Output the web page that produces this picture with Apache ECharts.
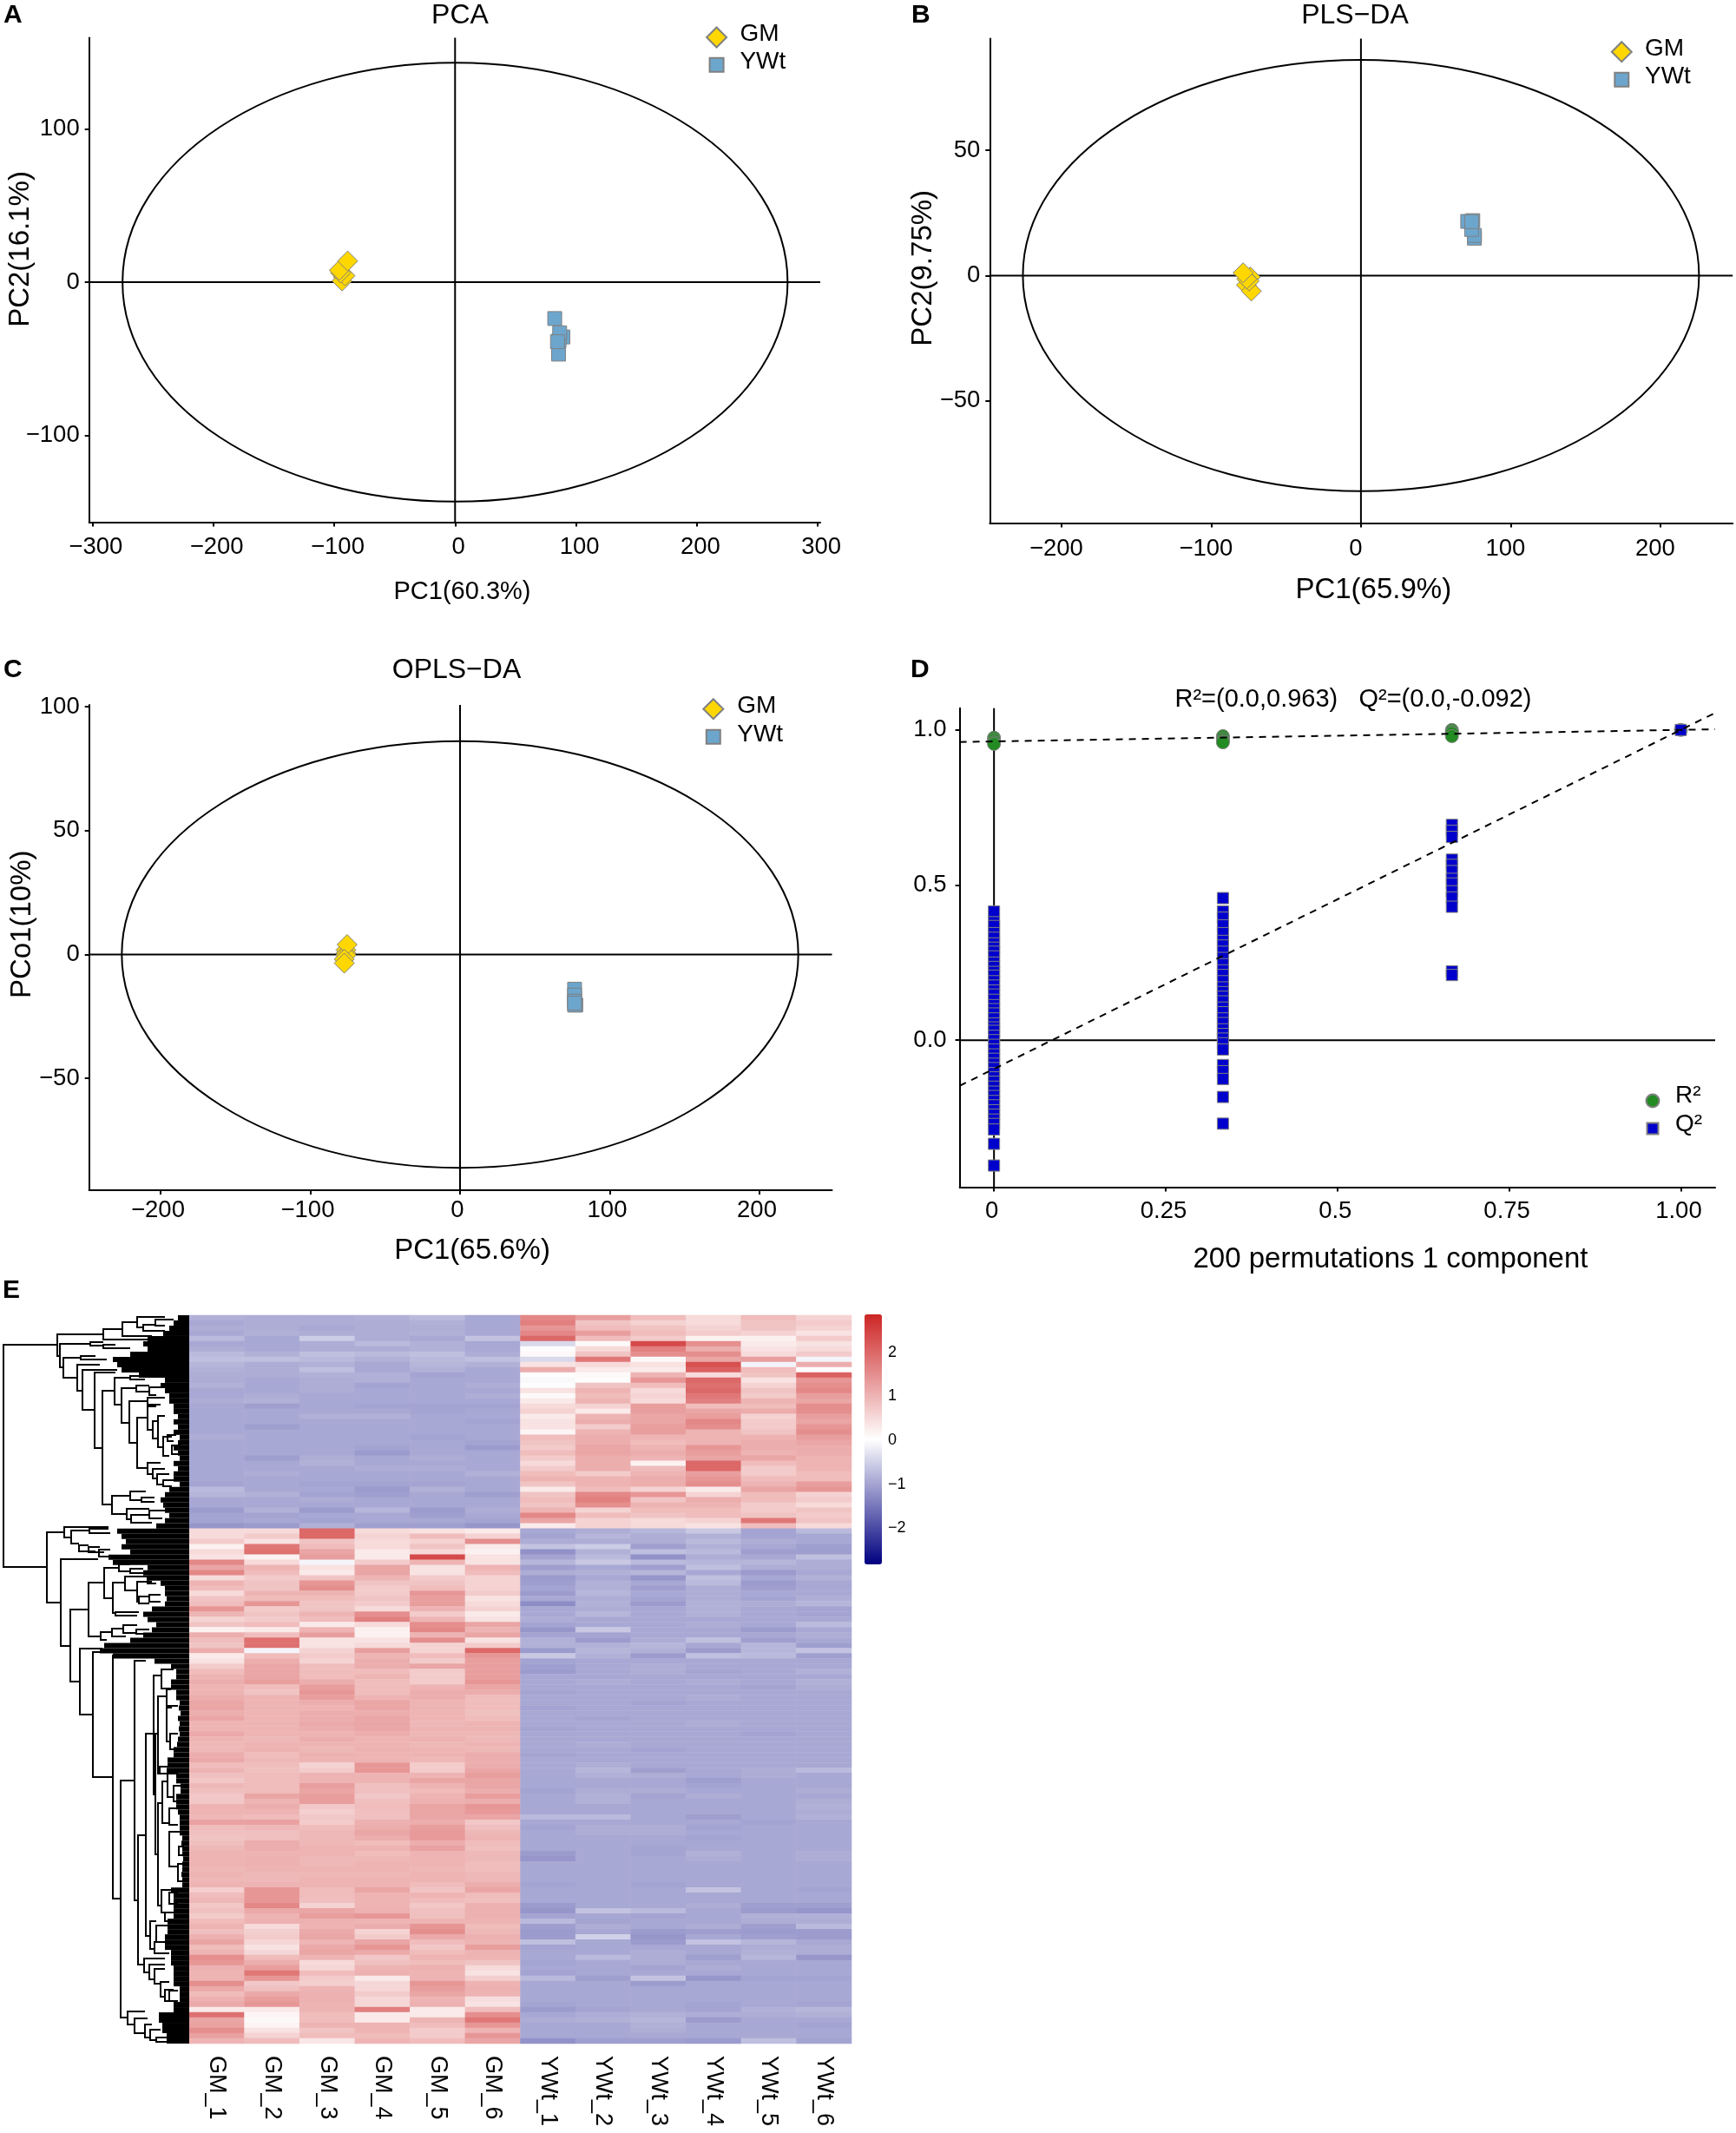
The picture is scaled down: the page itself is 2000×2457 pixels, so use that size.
<!DOCTYPE html>
<html>
<head>
<meta charset="utf-8">
<title>Metabolomics panels</title>
<script src="https://cdn.jsdelivr.net/npm/echarts@6/dist/echarts.min.js"></script>
<style>
  html, body { margin: 0; padding: 0; background: #fff; }
  #chart { width: 2000px; height: 2457px; }
</style>
</head>
<body>
<div id="chart"></div>
<script>
// 散点数据 [x, y]
const pcaGM = [[-92.4, 3.4], [-93.4, 0.8], [-91, 4.2], [-94.7, 6], [-95.7, 7.8], [-88.8, 13.8]]
const pcaYWt = [[89.2, -35.7], [86, -38], [82.4, -23.7], [86.5, -33], [85.6, -46.9], [84.7, -38.8]]
const plsGM = [[-73.9, -0.6], [-76.5, -3.8], [-73.2, -6.2], [-74.7, -2.2], [-76.2, -1.4], [-78.7, 1.1]]
const plsYWt = [[71.3, 21.6], [75.8, 14.9], [75.8, 16], [73.9, 18.4], [74.7, 21.9], [73.9, 21.5]]
const oplsGM = [[-76.2, 1.8], [-76.2, 0.5], [-76.2, -0.3], [-75.4, 4], [-77.3, -1.9], [-77.3, -3.5]]
const oplsYWt = [[77.3, -20.4], [76.5, -20.4], [76.5, -14], [76.5, -16.4], [76.5, -18.8], [76.5, -19.6]]

// 置信椭圆半径 [rx, ry]
const pcaEllipse = [275, 143]
const plsEllipse = [225.8, 86]
const oplsEllipse = [225.9, 86.1]

// 坐标轴范围与刻度
const pcaXRange = [-302.6, 302]
const pcaYRange = [-156.4, 159.2]
const plsXRange = [-247.9, 248.3]
const plsYRange = [-98.7, 94.5]
const oplsXRange = [-247.7, 248.4]
const oplsYRange = [-95.1, 100.7]
const pcaXTicks = [-300, -200, -100, 0, 100, 200, 300]
const pcaYTicks = [-100, 0, 100]
const plsXTicks = [-200, -100, 0, 100, 200]
const plsYTicks = [-50, 0, 50]
const oplsYTicks = [-50, 0, 50, 100]

// 置换检验
const permXRange = [-0.05, 1.05]
const permYRange = [-0.474, 1.07]
const permXTicks = [0, 0.25, 0.5, 0.75, 1]
const permXLabels = ['0', '0.25', '0.5', '0.75', '1.00']
const permYTicks = [0, 0.5, 1]
const permYLabels = ['0.0', '0.5', '1.0']
const similarity = [0, 0.3333, 0.6667, 1]
const r2Values = [
  [0.975, 0.968, 0.96, 0.955],
  [0.98, 0.972, 0.965, 0.96],
  [1.0, 0.995, 0.99, 0.98],
  [1.0]
]
const q2Values = [
  [0.415, 0.38, 0.368, 0.345, 0.33, 0.312, 0.298, 0.285, 0.27, 0.25, 0.236, 0.22, 0.208, 0.19, 0.176, 0.16, 0.147, 0.13, 0.113, 0.1, 0.086, 0.07, 0.054, 0.041, 0.03, 0.014, 0, -0.015, -0.03, -0.046, -0.06, -0.076, -0.09, -0.106, -0.12, -0.134, -0.15, -0.166, -0.18, -0.196, -0.21, -0.226, -0.24, -0.256, -0.27, -0.288, -0.334, -0.404],
  [0.458, 0.415, 0.395, 0.37, 0.345, 0.32, 0.305, 0.285, 0.265, 0.245, 0.225, 0.21, 0.19, 0.17, 0.155, 0.14, 0.125, 0.105, 0.09, 0.07, 0.055, 0.035, 0.02, 0.005, -0.01, -0.03, -0.08, -0.1, -0.125, -0.183, -0.269],
  [0.694, 0.675, 0.655, 0.582, 0.565, 0.545, 0.52, 0.505, 0.48, 0.46, 0.43, 0.222, 0.21],
  [1.0]
]
const r2Line = [[-0.05, 0.961], [1.05, 1.002]]
const q2Line = [[-0.05, -0.147], [1.05, 1.055]]

// 热图
const samples = ['GM_1', 'GM_2', 'GM_3', 'GM_4', 'GM_5', 'GM_6', 'YWt_1', 'YWt_2', 'YWt_3', 'YWt_4', 'YWt_5', 'YWt_6']
const colorTicks = [-2, -1, 0, 1, 2]

// 上半簇：GM 低、YWt 高
const upperGM = [
  [-.85, -.9, -.9, -.85, -.75, -.95], [-.95, -.9, -.9, -.9, -.85, -.95], [-.9, -.9, -.95, -.9, -.9, -.95],
  [-.95, -.85, -.9, -.9, -.85, -.95], [-.75, -.95, -.55, -.9, -.95, -.65], [-.95, -.95, -.9, -.75, -.85, -.95],
  [-.9, -.95, -.9, -.9, -.85, -.95], [-.75, -.85, -.7, -.75, -.7, -.9], [-.7, -.7, -.75, -.85, -.75, -.7],
  [-.8, -.9, -.85, -.95, -.8, -.85], [-.85, -.9, -.7, -.95, -.85, -.95], [-.9, -.9, -.85, -.85, -1, -.95],
  [-.9, -.95, -.9, -.85, -.95, -.95], [-.85, -.95, -.9, -1, -.95, -.9], [-.95, -.95, -.9, -.95, -.95, -.95],
  [-.95, -.9, -.95, -.95, -.95, -.9], [-.9, -.85, -.95, -.95, -.95, -.95], [-.95, -1.05, -.95, -1, -1, -1],
  [-.95, -.95, -.95, -.95, -1, -.95], [-.95, -.95, -.85, -.85, -.95, -.95], [-.95, -.95, -.95, -.95, -.95, -1],
  [-.95, -1.05, -.95, -.95, -.95, -.95], [-.95, -.95, -.95, -.95, -.95, -.95], [-.9, -.95, -.95, -.95, -1, -.95],
  [-.95, -.95, -.95, -.95, -.95, -1], [-.95, -.95, -.95, -1, -.95, -1.1], [-.95, -.95, -.95, -1.1, -.95, -.95],
  [-.95, -1.05, -.9, -.95, -.9, -.95], [-.95, -.95, -.85, -.95, -.95, -.95], [-.95, -.95, -.95, -.9, -.9, -.95],
  [-.95, -.9, -.95, -.95, -.95, -.85], [-.95, -.95, -.95, -.95, -.95, -.95], [-1, -.95, -1, -1, -1, -.95],
  [-.75, -.95, -.95, -1.1, -.85, -.95], [-.8, -.85, -1, -1.05, -.95, -1.05], [-.95, -.95, -.9, -.95, -.95, -.95],
  [-.95, -.95, -.95, -.95, -.95, -.95], [-1.1, -.85, -1.1, -.8, -1.1, -.9], [-1, -1, -.95, -.95, -1.05, -.95],
  [-1, -.95, -1, -.95, -.95, -1], [-1.15, -1.1, -.85, -1.05, -1.05, -1.15]
]
const upperYWt = [
  [1.6, 1.3, .9, .5, .9, .6], [1.7, .8, .6, .5, .8, .7], [1.4, .9, .8, .6, .8, .6],
  [1.6, 1.3, .9, .7, .6, .4], [2, .9, .7, .2, .2, .7], [-.4, .1, 2.4, 1.5, .3, .4],
  [.05, .5, 1.7, 1.1, .4, .5], [.1, .8, 1.5, 1.5, .5, .7], [-.4, 1.8, .1, 1.2, 1.3, -.1],
  [.4, .5, .4, 2.3, -.1, 1.1], [1.1, .3, .3, 2.1, .9, .05], [.05, .1, 1, .5, .8, 2.1],
  [-.05, 0, 1.4, 2, .4, 1.4], [0, .8, .9, 1.9, .6, 1.5], [.4, 1, .5, 2, .8, 1.6],
  [.1, .9, .6, 1.8, .7, 1.3], [.3, 1, .5, 1.7, 1, 1.2], [.5, .6, 1.3, .9, .9, 1.5],
  [.6, .3, 1.3, 1.2, 1.1, 1.5], [.3, 1, 1.2, 1.3, .6, 1.3], [.4, 1.1, 1.2, 1.6, .7, 1.2],
  [.4, .7, 1.3, 1.5, .7, 1.4], [.15, 1, 1.3, 1, .8, 1.5], [.9, 1.1, 1, 1, 1, 1.3],
  [.8, 1.1, .9, 1, 1.1, 1.2], [.7, 1.2, 1, 1.4, 1.1, 1.1], [.9, 1.2, 1.1, 1.3, 1, 1.1],
  [.7, 1.1, 1, 1.2, 1.2, 1], [.5, 1.1, .2, 2, .9, 1], [.7, 1.1, .9, 2, .7, 1],
  [.9, .7, 1, 1.3, .7, .9], [1, 1, 1.1, 1.4, .9, .9], [.8, 1, 1.1, 1.5, 1, 1.3],
  [.3, .9, .6, .3, 1.2, 1.4], [.8, 1.6, 1.4, .6, .9, .6], [.9, 1.7, .8, 1.1, .9, .7],
  [.8, 1.5, 1, 1, .7, .5], [1, .6, .9, .9, .7, .8], [1.6, .9, .8, .9, .8, .7],
  [1.2, .6, .5, .6, 1.8, .8], [.3, .6, .5, .4, .9, .5]
]
// 下半簇：GM 高、YWt 低
const lowerGM = [
  [.5, .5, 2, .5, .4, .3], [.5, .7, 2, .6, .9, .6], [.7, .4, .8, .5, .6, 1.5], [.2, 1.8, .9, .5, .8, .3],
  [.5, 1.9, 1.2, .3, .5, .2], [.4, .2, 1.3, .3, 2.4, .4], [1.6, .5, -.1, .7, 1, .4], [1.2, 1, .4, 1.2, .4, 1],
  [1.6, .9, .3, 1.2, .4, .9], [.5, .7, .8, 1, .7, .6], [1, .8, 1.4, .8, .8, .6], [.9, .8, 1.5, .7, .9, .6],
  [.5, 1, 1, .7, 1.4, .7], [.8, .9, .9, .8, 1.3, .4], [.9, 1.4, .8, .7, 1.3, .5], [1.4, .7, .8, .5, 1, .6],
  [1, .8, 1, 1.5, .7, .3], [.6, .7, .9, 1.7, 1, .4], [.8, .9, .3, .5, 1.5, 1.2], [.2, .3, 1, .2, 1.6, 1],
  [1.1, .9, 1.3, .2, 1, 1.2], [.9, 1.9, .4, .4, 1.5, .4], [.8, 1.9, .4, .5, .6, .7], [1.1, -.1, .6, 1.3, .6, 2],
  [.3, .9, .7, 1, .9, 1.4], [.4, 1.1, .6, 1.1, .7, 1.3], [.7, 1.2, .9, 1.1, 1.2, 1.3], [.9, 1.2, .9, .9, .7, 1.3],
  [1, 1.2, .9, 1, .7, 1.3], [1.1, 1.3, 1.1, .9, .7, 1.4], [1, .9, 1.3, .9, 1, 1.2], [1, .8, 1.4, .9, 1.1, 1.1],
  [1.1, 1, 1.3, 1, 1.1, .9], [1.2, 1, 1.1, 1.2, 1, .9], [1.2, 1, 1, 1.2, 1, .9], [1.1, 1, 1.1, 1.1, 1, .85],
  [1.2, 1, 1.1, 1.2, 1, .9], [1, 1, 1.15, 1.2, .95, 1], [1, 1, 1.1, 1.2, 1, 1], [1.15, 1, 1, 1.1, .95, .95],
  [1, .95, 1.1, 1, 1.05, .95], [.95, 1, 1, 1, .95, 1], [.95, 1.05, .95, 1.05, 1, .95], [1.1, .9, 1.05, 1, 1, 1.1],
  [1.15, .95, 1, 1, .95, 1.1], [.9, .9, .6, 1.4, .7, 1.1], [1, .85, .7, 1.4, .7, 1.2], [.85, .9, 1, 1, 1, 1.3],
  [.75, .9, 1, 1, 1.2, 1.2], [.95, .9, 1.3, .85, 1, 1.2], [.85, .9, 1.2, .85, .9, 1.1], [.75, 1.2, 1.3, .75, 1, 1.3],
  [.75, 1, 1.3, .85, 1.05, 1.1], [1, 1.1, .75, .9, 1.2, 1.4], [1, 1, .65, .85, 1.2, 1.35], [.95, .9, .75, .85, 1.2, 1.2],
  [1.25, 1.25, .7, 1.05, 1.1, .75], [.9, .95, .9, 1.1, 1.3, .85], [.85, .85, .95, 1.2, 1.35, .95], [.8, .85, .95, 1.1, 1.35, 1],
  [.85, 1.1, .95, .9, 1.1, .9], [.95, 1.1, 1, 1, 1.25, .85], [1, 1, 1, .9, 1, .95], [1, 1.05, .95, .95, 1, .95],
  [1, 1.05, .95, 1, 1, .9], [.95, 1, 1, 1, .95, .9], [1, .95, .95, .95, 1, .95], [.95, .95, 1, 1, 1, .95],
  [1, 1, 1, 1, .9, 1.1], [.65, 1.4, .9, 1.2, .8, 1.2], [.9, 1.4, .9, 1, 1, .9], [.95, 1.4, .85, 1, .9, .85],
  [.75, 1.6, .6, 1, .75, 1.05], [.85, 1.15, 1.2, 1.05, .85, 1.05], [.7, 1, 1.3, 1.4, .85, 1.05], [.9, 1.05, 1.05, 1, 1, 1],
  [1, .5, 1, 1.1, 1.4, .9], [.85, .65, 1.15, .6, 1.5, .95], [1.05, .7, 1.2, .7, 1.15, 1.05], [1.2, .55, 1, 1.2, .9, 1],
  [.9, .4, 1.15, 1.4, .75, 1.3], [1, .55, 1.2, 1.15, .9, 1], [1.5, .9, 1, .75, 1, 1], [1.4, 1.1, .5, .85, .9, .8],
  [1.05, 1.3, .55, 1, 1.05, .5], [1, 1.8, .9, 1.05, 1, .4], [1, 1.4, .7, .3, 1, .65], [1.5, .75, .65, .55, 1.4, 1],
  [1.15, .85, 1, .55, 1.3, 1.05], [.9, 1.15, 1.05, .7, 1.2, 1], [1.05, 1.3, 1.05, .55, 1, .45], [1.15, 1.4, 1, .55, 1.05, .4],
  [.3, .3, 1, 1.7, .3, .9], [1.9, .15, .9, .3, .3, 1.5], [1.2, .1, .9, .3, 1, 1.8], [1.25, .15, 1, 1, .9, 1.4],
  [1.5, .4, .8, 1, .7, 1], [1.25, .6, .9, .9, .7, 1.4], [1, .9, .35, 1, .9, 1.2]
]
const lowerYWt = [
  [-.95, -.9, -.8, -.6, -1, -.75], [-1, -.8, -.9, -.85, -1, -.95], [-.9, -.9, -.9, -.75, -.9, -.95], [-.65, -.55, -1.05, -.85, -.95, -1.05],
  [-1.2, -.85, -.7, -.75, -1.05, -1.05], [-1, -.75, -1.2, -.9, -.95, -.7], [-.8, -.6, -.75, -.8, -.8, -.9], [-1.05, -.95, -1.05, -.7, -.9, -.9],
  [-.9, -.85, -.8, -.95, -1.1, -.95], [-1.1, -.95, -1.15, -.7, -.95, -.85], [-1.05, -.85, -.95, -.75, -1.1, -.95], [-1, -.85, -1.05, -.9, -1.05, -.95],
  [-1.1, -.8, -.95, -.9, -.95, -.95], [-.95, -.9, -1, -.9, -1, -.9], [-1.25, -.85, -1.1, -.85, -.9, -.8], [-.95, -.9, -.95, -.85, -.95, -1],
  [-.95, -.8, -.95, -.85, -.95, -1], [-.9, -.95, -.95, -.95, -.95, -.95], [-1, -.95, -.95, -.9, -.95, -.75], [-1.15, -.6, -.95, -.95, -1.1, -.95],
  [-1, -1, -.95, -.95, -.95, -.9], [-.85, -1.1, -.9, -.7, -1.05, -.95], [-.85, -.85, -.8, -.95, -.8, -1.05], [-1.1, -.8, -.85, -1.1, -.8, -.65],
  [-.6, -.85, -1.1, -.7, -.75, -1.05], [-1, -.95, -.95, -.95, -.95, -.95], [-1.05, -.95, -.9, -.95, -.95, -.95], [-1.1, -.95, -.9, -1, -.95, -.85],
  [-.95, -.95, -.95, -.95, -.95, -.95], [-.95, -.9, -.95, -.9, -.95, -.85], [-.95, -.95, -.95, -.95, -1, -.9], [-1, -.95, -.95, -.95, -.95, -.95],
  [-.95, -.95, -.95, -.9, -.95, -.95], [-.95, -.95, -1, -.95, -.95, -.95], [-1, -.95, -.95, -.95, -.95, -.95], [-.95, -.95, -.95, -.95, -.95, -.95],
  [-.95, -1, -.95, -.95, -.95, -.95], [-.95, -.95, -.95, -.9, -.95, -.95], [-1, -.95, -.95, -.95, -.95, -.95], [-.95, -.95, -.95, -.95, -1, -.95],
  [-.95, -.95, -.95, -.95, -.95, -.95], [-.95, -.9, -.95, -.95, -.95, -.95], [-.95, -.95, -1, -.95, -.95, -.95], [-1, -.95, -.95, -.95, -.95, -.95],
  [-.95, -.95, -.95, -.95, -.95, -.95], [-.95, -.9, -.95, -.95, -.95, -.95], [-.95, -.8, -1.05, -.95, -.9, -.75], [-.95, -.85, -.9, -.95, -.9, -.95],
  [-.95, -.95, -.95, -1.05, -.95, -.95], [-.95, -.95, -.95, -1, -.95, -.95], [-1, -.9, -.9, -.95, -.95, -.9], [-.95, -.85, -1, -.9, -.95, -.95],
  [-.95, -.85, -.95, -.95, -.95, -.9], [-.95, -.95, -.95, -.95, -.95, -.85], [-.95, -.95, -.95, -.95, -.95, -.9], [-.75, -.75, -.95, -1.05, -.95, -.85],
  [-.95, -.95, -.95, -.95, -1, -.95], [-1, -.9, -.9, -1, -.95, -.95], [-.95, -.9, -.9, -.95, -.95, -.95], [-.95, -.95, -.95, -1, -.95, -.95],
  [-.95, -.95, -.95, -.95, -.95, -.95], [-.95, -.95, -1, -.95, -.95, -.95], [-1.1, -.95, -1, -.85, -.95, -.9], [-1.15, -.95, -.95, -.9, -.95, -.9],
  [-.95, -.95, -.95, -.95, -.95, -.95], [-.95, -.95, -.95, -.95, -.95, -.95], [-.95, -.95, -.95, -.95, -.95, -.95], [-.95, -.95, -.95, -.95, -.95, -.95],
  [-1, -.95, -1, -.95, -.95, -.95], [-.95, -.95, -.95, -.65, -.95, -1], [-.95, -.95, -.95, -.95, -.95, -.95], [-.95, -.95, -.95, -.95, -.95, -.95],
  [-1.1, -.95, -.95, -.9, -1.05, -1.05], [-1.15, -.65, -.75, -.95, -1.1, -1.15], [-1, -.95, -1, -.95, -.85, -.85], [-.75, -1, -.95, -.95, -.9, -.9],
  [-1.05, -.9, -.95, -.9, -1.05, -.75], [-1.1, -.95, -1.1, -1.05, -1.1, -1.1], [-1.1, -.5, -1.15, -.95, -1.05, -1.1], [-.7, -.95, -1.1, -.65, -.8, -.95],
  [-1, -.95, -.95, -.95, -.9, -.9], [-.95, -.95, -.9, -.95, -.85, -.9], [-.95, -.75, -.9, -1.05, -.8, -1.15], [-1, -.95, -.9, -.95, -.95, -.95],
  [-.95, -.95, -1, -.9, -.95, -.95], [-1, -.95, -.95, -.95, -.95, -.95], [-.75, -1.05, -.65, -1.15, -1, -1], [-.95, -.95, -1.1, -.95, -.95, -.95],
  [-.95, -.95, -.95, -.95, -.95, -.95], [-.95, -.95, -.95, -.95, -.95, -.95], [-.95, -.95, -.95, -.95, -.95, -.95], [-1, -.95, -.95, -1, -.95, -1],
  [-1.1, -1, -.95, -1, -.85, -.8], [-.95, -.9, -.85, -.9, -.9, -.85], [-.9, -.85, -.8, -1.1, -.95, -.95], [-.95, -.95, -.85, -.95, -.95, -1],
  [-.95, -.95, -.9, -.95, -.95, -.95], [-.95, -.95, -.95, -.95, -.95, -.95], [-1.2, -1.05, -1.05, -1.1, -.7, -1]
]

// 树状图：每个节点 [上分支位置, 下分支位置, 节点高度, 上分支末端, 下分支末端]
const dendroLinks = [
  [34, 290, 4, 66, 54], [22, 47, 66, 119, 69], [16, 28, 119, 141, 173], [8, 24, 141, 158, 175], [2, 14, 158, 190, 165],
  [5, 12, 179, 200, 190], [11, 18, 165, 179, 190], [33, 60, 69, 104, 73], [31, 35, 104, 119, 119], [34, 38, 119, 133, 150],
  [49, 72, 73, 93, 89], [47, 51, 93, 110, 123], [57, 87, 89, 115, 95], [63, 109, 95, 135, 109], [66, 153, 109, 133, 118],
  [87, 218, 118, 132, 129], [72, 103, 132, 150, 140], [70, 74, 150, 167, 167], [84, 124, 140, 157, 149], [81, 88, 157, 172, 172],
  [83, 92, 172, 185, 180], [99, 147, 149, 170, 158], [95, 103, 170, 190, 185], [118, 176, 158, 170, 170], [105, 132, 170, 180, 176],
  [122, 142, 176, 183, 182], [116, 152, 182, 190, 188], [140, 162, 188, 198, 195], [138, 145, 193, 203, 200], [150, 160, 198, 208, 205],
  [170, 183, 170, 185, 176], [177, 188, 176, 190, 181], [183, 195, 181, 195, 188], [190, 197, 188, 200, 198], [208, 229, 129, 150, 146],
  [203, 213, 150, 168, 163], [210, 215, 163, 178, 178], [223, 235, 146, 172, 151], [230, 239, 151, 172, 175], [225, 234, 172, 190, 187],
  [250, 331, 54, 74, 70], [244, 256, 74, 125, 82], [248, 263, 82, 103, 91], [246, 251, 103, 125, 127], [265, 272, 91, 102, 110],
  [267, 273, 102, 115, 120], [270, 278, 114, 127, 130], [281, 381, 70, 113, 81], [339, 422, 81, 102, 92], [308, 370, 102, 120, 116],
  [291, 326, 120, 137, 130], [287, 295, 137, 150, 150], [292, 297, 150, 165, 165], [308, 343, 130, 144, 133], [301, 317, 144, 170, 157],
  [303, 309, 170, 180, 180], [307, 330, 158, 175, 160], [324, 332, 160, 172, 172], [322, 330, 172, 185, 185], [342, 346, 133, 160, 158],
  [365, 374, 116, 129, 123], [361, 370, 129, 142, 145], [357, 366, 142, 158, 157], [362, 367, 157, 172, 172], [384, 460, 92, 118, 107],
  [388, 532, 107, 150, 130], [392, 672, 130, 150, 139], [536, 809, 139, 155, 147], [398, 674, 155, 168, 159], [599, 748, 159, 168, 166],
  [482, 715, 168, 177, 173], [415, 552, 177, 186, 179], [408, 430, 186, 200, 203], [482, 621, 179, 182, 182], [439, 528, 182, 192, 184],
  [431, 452, 192, 197, 198], [450, 491, 192, 205, 196], [482, 500, 196, 205, 209], [520, 528, 184, 197, 203], [562, 680, 182, 187, 186],
  [537, 585, 187, 193, 195], [528, 555, 193, 205, 200], [542, 560, 200, 208, 205], [568, 587, 195, 207, 205], [595, 635, 195, 210, 206],
  [612, 622, 206, 212, 210], [632, 652, 205, 213, 210], [662, 688, 186, 200, 197], [665, 678, 195, 205, 205], [688, 698, 190, 203, 200],
  [698, 730, 173, 180, 178], [703, 722, 180, 195, 190], [722, 735, 178, 190, 195], [741, 757, 166, 190, 172], [748, 765, 172, 190, 178],
  [753, 770, 178, 190, 185], [768, 785, 185, 195, 190], [777, 790, 190, 200, 195], [778, 790, 195, 205, 205], [802, 817, 147, 167, 155],
  [810, 827, 155, 170, 167], [817, 832, 167, 175, 173], [823, 835, 173, 185, 180], [832, 837, 180, 195, 195]
]
// 叶端黑色密集区的左边界（每行一个值）
const leafEdges = [
  205, 200, 195, 188, 170, 165, 170, 150, 130, 135, 140, 160, 190, 185, 190, 195, 195, 200, 200, 205,
  200, 205, 200, 207, 205, 200, 205, 207, 200, 205, 200, 200, 207, 195, 190, 185, 188, 190, 195, 190,
  180, 135, 140, 145, 140, 150, 125, 130, 170, 165, 170, 185, 190, 190, 192, 190, 175, 165, 170, 180,
  175, 165, 150, 120, 115, 130, 178, 197, 203, 203, 197, 197, 203, 203, 207, 206, 208, 205, 207, 206,
  207, 205, 204, 200, 200, 193, 193, 192, 203, 203, 208, 208, 203, 203, 203, 205, 207, 207, 207, 207,
  210, 209, 210, 210, 211, 210, 210, 209, 210, 210, 197, 200, 200, 200, 200, 200, 193, 193, 193, 190,
  190, 190, 197, 197, 197, 200, 200, 200, 200, 207, 207, 207, 200, 200, 183, 183, 187, 187, 192, 192
]

// 通用样式
const FONT = '"Liberation Sans", Arial, sans-serif'
const MINUS = '\u2212'
const tickText = (v) => String(v).replace('-', MINUS)

const makeAxis = (gridIndex, range, ticks, opts = {}) => ({
  type: 'value',
  gridIndex,
  min: range[0],
  max: range[1],
  scale: true,
  splitLine: { show: false },
  axisLine: { show: true, onZero: false, lineStyle: { color: '#000', width: 2 } },
  axisTick: { show: true, length: 5, customValues: ticks, lineStyle: { color: '#000', width: 2 } },
  axisLabel: {
    show: true,
    customValues: ticks,
    margin: opts.margin || 13,
    padding: opts.padding || 0,
    color: '#000',
    fontFamily: FONT,
    fontSize: 27.5,
    formatter: opts.formatter || tickText
  }
})

const zeroLines = (axisIndex, xRange, yRange) => [
  {
    type: 'line', xAxisIndex: axisIndex, yAxisIndex: axisIndex, silent: true, showSymbol: false, z: 1,
    data: [[xRange[0], 0], [xRange[1], 0]], lineStyle: { color: '#000', width: 2 }
  },
  {
    type: 'line', xAxisIndex: axisIndex, yAxisIndex: axisIndex, silent: true, showSymbol: false, z: 1,
    data: [[0, yRange[0]], [0, yRange[1]]], lineStyle: { color: '#000', width: 2 }
  }
]

// 椭圆通过坐标轴换算成像素
const ellipseSeries = (axisIndex, radius) => ({
  type: 'custom',
  xAxisIndex: axisIndex,
  yAxisIndex: axisIndex,
  silent: true,
  z: 1,
  clip: false,
  data: [[0, 0, radius[0], radius[1]]],
  renderItem: (params, api) => {
    const center = api.coord([api.value(0), api.value(1)])
    const corner = api.coord([api.value(2), api.value(3)])
    return {
      type: 'ellipse',
      shape: { cx: center[0], cy: center[1], rx: corner[0] - center[0], ry: center[1] - corner[1] },
      style: { fill: 'none', stroke: '#000', lineWidth: 2 }
    }
  }
})

const groupSeries = (axisIndex, name, data) => ({
  type: 'scatter',
  name,
  xAxisIndex: axisIndex,
  yAxisIndex: axisIndex,
  silent: true,
  z: 3,
  symbol: name === 'GM' ? 'diamond' : 'rect',
  symbolSize: name === 'GM' ? 23 : 16,
  itemStyle: { color: name === 'GM' ? '#FFD700' : '#6CA6CD', borderColor: '#808080', borderWidth: 1, opacity: 1 },
  data
})

const permSeries = (name, symbol, size, color, values) => ({
  type: 'scatter',
  name,
  xAxisIndex: 3,
  yAxisIndex: 3,
  silent: true,
  z: name === 'R²' ? 2 : 3,
  symbol,
  symbolSize: size,
  itemStyle: { color, borderColor: '#808080', borderWidth: 1, opacity: 1 },
  data: values.flatMap((col, i) => col.map((v) => [similarity[i], v]))
})

const dashSeries = (data) => ({
  type: 'line',
  xAxisIndex: 3,
  yAxisIndex: 3,
  silent: true,
  showSymbol: false,
  z: 4,
  data,
  lineStyle: { color: '#000', width: 2, type: [8, 7] }
})

const legendItem = (name, icon, size, cx, cy, textX, textY) => {
  const pad = 2 * (cy - textY)
  return {
    orient: 'vertical',
    left: cx - size / 2,
    top: cy - (28 + pad) / 2,
    padding: 0,
    itemWidth: size,
    itemHeight: size,
    selectedMode: false,
    data: [{ name, icon }],
    formatter: '{t|{name}}',
    textStyle: {
      rich: {
        t: {
          fontFamily: FONT,
          fontSize: 28,
          color: '#000',
          lineHeight: 28,
          padding: [0, 0, pad, textX - (cx + size / 2 + 5)]
        }
      }
    }
  }
}

const label = (text, x, y, size, extra = {}) => ({
  type: 'text',
  x,
  y,
  silent: true,
  rotation: extra.rotation || 0,
  style: {
    text,
    fill: '#000',
    font: `${extra.bold ? 'bold ' : ''}${size}px ${FONT}`,
    textAlign: extra.align || 'center',
    textVerticalAlign: 'middle'
  }
})

// 热图单元格
const allRows = upperGM.map((r, i) => r.concat(upperYWt[i])).concat(lowerGM.map((r, i) => r.concat(lowerYWt[i])))
const heatData = allRows.flatMap((row, r) => row.map((v, c) => [c, r, v]))
const rowLabels = allRows.map((_, i) => String(i))

const chart = echarts.init(document.getElementById('chart'), null, { renderer: 'canvas' })

chart.setOption({
  animation: false,
  backgroundColor: '#fff',
  textStyle: { fontFamily: FONT },
  grid: [
    { left: 102.7, top: 43.6, width: 842.3, height: 557.9 },
    { left: 1140.3, top: 44.5, width: 855.9, height: 557.9 },
    { left: 102.7, top: 812.1, width: 855.8, height: 558.8 },
    { left: 1105.6, top: 815.8, width: 870.4, height: 551.8 },
    { left: 0, top: 1515, width: 218, height: 839 },
    { left: 218, top: 1515, width: 763, height: 839 },
    { left: 996, top: 1514, width: 20, height: 288 }
  ],
  xAxis: [
    makeAxis(0, pcaXRange, pcaXTicks, { margin: 15, padding: [0, 0, 0, 8] }),
    makeAxis(1, plsXRange, plsXTicks, { margin: 16, padding: [0, 12, 0, 0] }),
    makeAxis(2, oplsXRange, plsXTicks, { margin: 10, padding: [0, 6, 0, 0] }),
    makeAxis(3, permXRange, permXTicks, { margin: 14, padding: [0, 5, 0, 0], formatter: (v) => permXLabels[permXTicks.indexOf(v)] }),
    { type: 'value', gridIndex: 4, min: 0, max: 218, show: false },
    {
      type: 'category',
      gridIndex: 5,
      data: samples,
      position: 'bottom',
      axisLine: { show: false },
      axisTick: { show: false },
      splitLine: { show: false },
      axisLabel: { rotate: -90, margin: 14, interval: 0, color: '#000', fontFamily: FONT, fontSize: 27 }
    },
    { type: 'value', gridIndex: 6, min: 0, max: 1, show: false }
  ],
  yAxis: [
    makeAxis(0, pcaYRange, pcaYTicks, { margin: 11 }),
    makeAxis(1, plsYRange, plsYTicks, { margin: 11 }),
    makeAxis(2, oplsYRange, oplsYTicks, { margin: 11 }),
    makeAxis(3, permYRange, permYTicks, { margin: 15, formatter: (v) => permYLabels[permYTicks.indexOf(v)] }),
    { type: 'value', gridIndex: 4, min: 0, max: 839, inverse: true, show: false },
    { type: 'category', gridIndex: 5, data: rowLabels, inverse: true, show: false },
    {
      type: 'value',
      gridIndex: 6,
      min: -2.83,
      max: 2.87,
      position: 'right',
      splitLine: { show: false },
      axisLine: { show: false, onZero: false },
      axisTick: { show: false },
      axisLabel: { customValues: colorTicks, margin: 7, color: '#000', fontFamily: FONT, fontSize: 18, formatter: tickText }
    }
  ],
  visualMap: {
    type: 'continuous',
    seriesIndex: 0,
    dimension: 2,
    min: -2.83,
    max: 2.87,
    calculable: false,
    realtime: false,
    left: 996,
    top: 1514,
    padding: 0,
    itemWidth: 20,
    itemHeight: 288,
    text: null,
    showLabel: false,
    inRange: { color: ['#000080', '#FFFFFF', '#CD2626'] }
  },
  legend: [
    legendItem('GM', 'diamond', 23, 824.6, 43, 851.4, 39),
    legendItem('YWt', 'rect', 16, 824.6, 74.8, 851.4, 71),
    legendItem('GM', 'diamond', 23, 1867.3, 59.7, 1894, 56),
    legendItem('YWt', 'rect', 16, 1867.3, 91.8, 1894, 88),
    legendItem('GM', 'diamond', 23, 820.8, 816.7, 848.2, 813.5),
    legendItem('YWt', 'rect', 16, 820.8, 848.8, 848.2, 846.5),
    legendItem('R²', 'circle', 15, 1903, 1268, 1929, 1262.5),
    legendItem('Q²', 'rect', 13, 1903, 1300, 1929, 1295.5)
  ],
  series: [
    {
      type: 'heatmap',
      xAxisIndex: 5,
      yAxisIndex: 5,
      silent: true,
      progressive: 0,
      data: heatData,
      itemStyle: { borderWidth: 0 },
      emphasis: { disabled: true }
    },
    ...zeroLines(0, pcaXRange, pcaYRange),
    ellipseSeries(0, pcaEllipse),
    groupSeries(0, 'GM', pcaGM),
    groupSeries(0, 'YWt', pcaYWt),
    ...zeroLines(1, plsXRange, plsYRange),
    ellipseSeries(1, plsEllipse),
    groupSeries(1, 'GM', plsGM),
    groupSeries(1, 'YWt', plsYWt),
    ...zeroLines(2, oplsXRange, oplsYRange),
    ellipseSeries(2, oplsEllipse),
    groupSeries(2, 'GM', oplsGM),
    groupSeries(2, 'YWt', oplsYWt),
    ...zeroLines(3, permXRange, permYRange),
    permSeries('R²', 'circle', 15, '#228B22', r2Values),
    permSeries('Q²', 'rect', 13, '#0000CD', q2Values),
    dashSeries(r2Line),
    dashSeries(q2Line),
    {
      // 叶端
      type: 'custom',
      xAxisIndex: 4,
      yAxisIndex: 4,
      silent: true,
      clip: false,
      data: leafEdges.map((edge, i) => [edge, i * 839 / leafEdges.length, (i + 1) * 839 / leafEdges.length]),
      renderItem: (params, api) => {
        const a = api.coord([api.value(0), api.value(1)])
        const b = api.coord([218, api.value(2)])
        return { type: 'rect', shape: { x: a[0], y: a[1], width: b[0] - a[0], height: b[1] - a[1] }, style: { fill: '#000' } }
      }
    },
    {
      // 分支
      type: 'custom',
      xAxisIndex: 4,
      yAxisIndex: 4,
      silent: true,
      clip: false,
      data: dendroLinks,
      renderItem: (params, api) => {
        const [top, bottom, node, endTop, endBottom] = [0, 1, 2, 3, 4].map((d) => api.value(d))
        return {
          type: 'polyline',
          shape: { points: [api.coord([endTop, top]), api.coord([node, top]), api.coord([node, bottom]), api.coord([endBottom, bottom])] },
          style: { fill: 'none', stroke: '#000', lineWidth: 2 }
        }
      }
    }
  ],
  graphic: [
    label('A', 4, 18, 30, { bold: true, align: 'left' }),
    label('B', 1050, 18, 30, { bold: true, align: 'left' }),
    label('C', 4, 772, 30, { bold: true, align: 'left' }),
    label('D', 1049, 772, 30, { bold: true, align: 'left' }),
    label('E', 3, 1487, 30, { bold: true, align: 'left' }),
    label('PCA', 530, 18, 32),
    label(`PLS${MINUS}DA`, 1561, 18, 32),
    label(`OPLS${MINUS}DA`, 526, 772, 32),
    label('R²=(0.0,0.963)   Q²=(0.0,-0.092)', 1559, 806, 29),
    label('PC1(60.3%)', 532.5, 682, 29),
    label('PC1(65.9%)', 1582.3, 680, 33),
    label('PC1(65.6%)', 544, 1441, 33),
    label('200 permutations 1 component', 1602, 1451, 33),
    label('PC2(16.1%)', 23.6, 287, 33, { rotation: Math.PI / 2 }),
    label('PC2(9.75%)', 1063.8, 308.8, 33, { rotation: Math.PI / 2 }),
    label('PCo1(10%)', 25.5, 1064.8, 33, { rotation: Math.PI / 2 })
  ]
})
</script>
</body>
</html>
